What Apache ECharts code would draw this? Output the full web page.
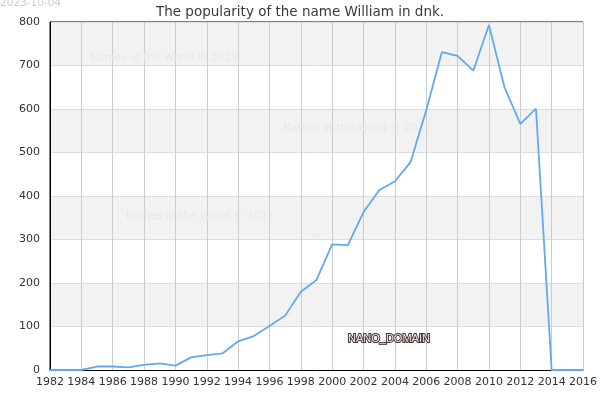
<!DOCTYPE html>
<html>
<head>
<meta charset="utf-8">
<script src="https://cdn.jsdelivr.net/npm/echarts@6/dist/echarts.min.js"></script>
<style>
  html, body { margin: 0; padding: 0; background: #fff; }
  #chart { width: 600px; height: 400px; }
</style>
</head>
<body>
<div id="chart"></div>
<script>
const years = [1982, 1983, 1984, 1985, 1986, 1987, 1988, 1989, 1990, 1991, 1992, 1993, 1994, 1995, 1996, 1997, 1998, 1999,
  2000, 2001, 2002, 2003, 2004, 2005, 2006, 2007, 2008, 2009, 2010, 2011, 2012, 2013, 2014, 2015, 2016]
const counts = [0, 0, 0, 8, 8, 6, 12, 15, 10, 29, 34, 38, 66, 78, 101, 125, 180, 207,
  289, 287, 363, 413, 434, 478, 597, 731, 722, 688, 793, 649, 566, 601, 0, 0, 0]
const titleText = 'The popularity of the name William in dnk.'
const dateText = '2023-10-04'
const watermark = 'Names of the World © 2023'

const chart = echarts.init(document.getElementById('chart'), null, { renderer: 'canvas' })

const font = 'DejaVu Sans'

chart.setOption({
  animation: false,
  backgroundColor: '#fff',
  textStyle: { fontFamily: font },
  title: {
    text: titleText,
    left: 'center',
    top: 0,
    textStyle: { fontSize: 13.5, fontWeight: 'normal', color: '#3a3a3a', fontFamily: font }
  },
  grid: {
    left: 50, right: 12, top: 22, bottom: 30,
    show: true, borderColor: '#000', borderWidth: 1, backgroundColor: 'transparent'
  },
  xAxis: {
    type: 'value',
    min: 1982,
    max: 2016,
    interval: 2,
    axisLine: { show: true, lineStyle: { color: '#000', width: 1 } },
    axisTick: { show: false },
    axisLabel: { color: '#333', fontSize: 11, margin: 7, formatter: v => String(v) },
    splitLine: { show: true, lineStyle: { color: '#cccccc', width: 1 } }
  },
  yAxis: {
    type: 'value',
    min: 0,
    max: 800,
    interval: 100,
    axisLine: { show: true, lineStyle: { color: '#000', width: 1 } },
    axisTick: { show: false },
    axisLabel: { color: '#333', fontSize: 11, margin: 10 },
    splitLine: { show: true, lineStyle: { color: '#dddddd', width: 1 } },
    splitArea: { show: true, areaStyle: { color: ['#ffffff', '#f2f2f2'] } }
  },
  graphic: [
    { type: 'text', left: 0, top: -2, style: { text: dateText, fill: '#cccccc', fontSize: 10.5, fontFamily: font } },
    { type: 'text', left: 90, top: 53, z: 1, style: { text: watermark, fill: '#e6e6f2', fontSize: 10.5, fontFamily: font } },
    { type: 'text', left: 283, top: 123, z: 1, style: { text: watermark, fill: '#e6e6f2', fontSize: 10.5, fontFamily: font } },
    { type: 'text', left: 126, top: 211, z: 1, style: { text: watermark, fill: '#e6e6f2', fontSize: 10.5, fontFamily: font } },
    {
      type: 'text', left: 347, top: 332, z: 10,
      style: { text: 'NANO_DOMAIN', fill: '#efe6e6', stroke: '#4a3636', lineWidth: 2, fontSize: 11, fontFamily: 'Liberation Sans' }
    }
  ],
  series: [{
    type: 'line',
    data: years.map((y, i) => [y, counts[i]]),
    showSymbol: false,
    lineStyle: { color: '#64a8f0', width: 1.8 },
    itemStyle: { color: '#64a8f0' },
    emphasis: { disabled: true },
    z: 5
  }]
})
</script>
</body>
</html>
